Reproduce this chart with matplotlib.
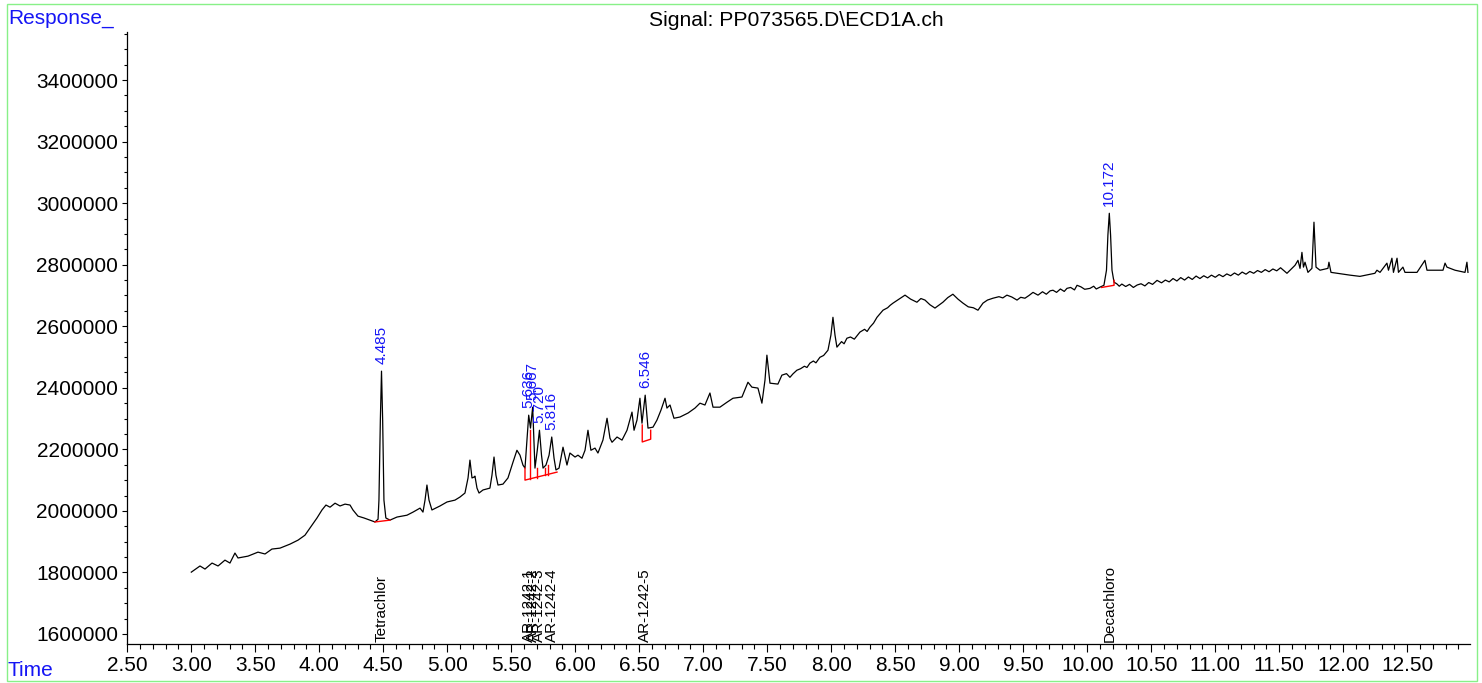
import numpy as np
import matplotlib
matplotlib.use("Agg")
import matplotlib.pyplot as plt
from matplotlib.patches import Rectangle
from matplotlib.ticker import MultipleLocator, FixedLocator, FormatStrFormatter

plt.rcParams['font.family'] = ['Liberation Sans', 'DejaVu Sans']

# ---------------- data ----------------
time = [3.00, 3.068, 3.107, 3.162, 3.209, 3.263, 3.302, 3.341, 3.365, 3.443, 3.521, 3.576, 3.630, 3.693,
        3.771, 3.834, 3.888, 3.927, 3.982, 4.021, 4.052, 4.084, 4.123, 4.162, 4.201, 4.240, 4.263, 4.302,
        4.349, 4.396, 4.435, 4.459, 4.466, 4.477, 4.486, 4.495, 4.505, 4.520, 4.552, 4.607, 4.685, 4.732,
        4.787, 4.810, 4.826, 4.841, 4.857, 4.880, 4.943, 4.998, 5.060, 5.099, 5.138, 5.162, 5.177, 5.193,
        5.209, 5.216, 5.232, 5.248, 5.279, 5.333, 5.349, 5.365, 5.380, 5.396, 5.435, 5.474, 5.513, 5.544,
        5.568, 5.591, 5.607, 5.622, 5.636, 5.650, 5.667, 5.685, 5.703, 5.720, 5.736, 5.748, 5.771, 5.795,
        5.816, 5.834, 5.849, 5.873, 5.904, 5.935, 5.958, 5.998, 6.021, 6.052, 6.076, 6.099, 6.122, 6.154,
        6.177, 6.216, 6.248, 6.271, 6.287, 6.326, 6.365, 6.404, 6.443, 6.459, 6.482, 6.505, 6.521, 6.546,
        6.568, 6.607, 6.638, 6.669, 6.701, 6.716, 6.740, 6.771, 6.818, 6.881, 6.935, 6.974, 7.013, 7.052,
        7.076, 7.130, 7.185, 7.232, 7.302, 7.349, 7.380, 7.427, 7.458, 7.482, 7.497, 7.521, 7.583, 7.614,
        7.65, 7.677, 7.70, 7.731, 7.76, 7.79, 7.81, 7.833, 7.86, 7.88, 7.911, 7.94, 7.974, 7.997, 8.013,
        8.029, 8.044, 8.08, 8.10, 8.122, 8.15, 8.18, 8.224, 8.26, 8.28, 8.302, 8.33, 8.357, 8.38, 8.404,
        8.44, 8.46, 8.482, 8.576, 8.62, 8.669, 8.70, 8.732, 8.77, 8.810, 8.84, 8.872, 8.91, 8.950, 8.99,
        9.029, 9.07, 9.11, 9.146, 9.185, 9.22, 9.263, 9.31, 9.34, 9.372, 9.41, 9.451, 9.48, 9.513, 9.545,
        9.576, 9.615, 9.65, 9.68, 9.71, 9.732, 9.76, 9.79, 9.82, 9.841, 9.87, 9.90, 9.920, 9.95, 9.98,
        10.021, 10.05, 10.07, 10.099, 10.130, 10.150, 10.161, 10.172, 10.182, 10.193, 10.209,
        10.23, 10.25, 10.27, 10.30, 10.33, 10.36, 10.39, 10.42, 10.45, 10.48, 10.51, 10.545, 10.58, 10.61,
        10.64, 10.67, 10.70, 10.73, 10.76, 10.79, 10.82, 10.85, 10.88, 10.91, 10.94, 10.97, 11.00, 11.03,
        11.06, 11.09, 11.12, 11.15, 11.18, 11.21, 11.24, 11.27, 11.30, 11.33, 11.36, 11.39, 11.42, 11.45,
        11.48, 11.51, 11.560, 11.623, 11.646, 11.662, 11.677, 11.689, 11.701, 11.724, 11.755, 11.771,
        11.787, 11.818, 11.880, 11.888, 11.904, 12.052, 12.130, 12.247, 12.263, 12.287, 12.341, 12.353,
        12.380, 12.392, 12.420, 12.431, 12.466, 12.482, 12.576, 12.638, 12.654, 12.779, 12.795, 12.810,
        12.873, 12.951, 12.966, 12.974]
response = [1801000, 1821000, 1811000, 1830500, 1821000, 1840000, 1830500, 1863000, 1847000, 1853000,
            1866000, 1860000, 1876000, 1879000, 1892000, 1905000, 1921000, 1944000, 1977000, 2003000,
            2019000, 2012000, 2025000, 2016000, 2022000, 2019000, 2003000, 1983000, 1977000, 1970000,
            1964000, 1973000, 2035000, 2295000, 2454000, 2295000, 2035000, 1977000, 1970000, 1980000,
            1986000, 1996000, 2009000, 1996000, 2035000, 2084000, 2035000, 2003000, 2016000, 2029000,
            2035000, 2045000, 2058000, 2107000, 2165000, 2107000, 2110000, 2113000, 2074000, 2058000,
            2068000, 2074000, 2116000, 2175000, 2116000, 2084000, 2087000, 2107000, 2158000, 2197000,
            2181000, 2149000, 2139000, 2230000, 2311000, 2269000, 2337000, 2139000, 2197000, 2262000,
            2181000, 2139000, 2149000, 2181000, 2240000, 2171000, 2133000, 2139000, 2207000, 2149000,
            2188000, 2175000, 2181000, 2171000, 2197000, 2262000, 2197000, 2204000, 2188000, 2230000,
            2301000, 2236000, 2223000, 2240000, 2230000, 2262000, 2321000, 2262000, 2295000, 2366000,
            2285000, 2376000, 2269000, 2272000, 2295000, 2327000, 2366000, 2334000, 2344000, 2301000,
            2305000, 2318000, 2334000, 2350000, 2344000, 2383000, 2337000, 2337000, 2353000, 2366000,
            2370000, 2418000, 2402000, 2399000, 2350000, 2425000, 2506000, 2415000, 2412000, 2441000,
            2446000, 2434000, 2445000, 2457000, 2462000, 2470000, 2466000, 2480000, 2487000, 2481000,
            2499000, 2505000, 2522000, 2571000, 2629000,
            2571000, 2532000, 2550000, 2543000, 2561000, 2565000, 2558000, 2581000, 2590000, 2583000,
            2597000, 2610000, 2629000, 2640000, 2652000,
            2660000, 2668000, 2675000, 2701000, 2688000, 2678000, 2690000, 2685000, 2670000, 2659000,
            2668000, 2678000, 2693000, 2704000, 2688000,
            2675000, 2663000, 2660000, 2652000, 2675000, 2685000, 2691000, 2696000, 2692000, 2701000,
            2695000, 2685000, 2694000, 2691000, 2700000,
            2710000, 2701000, 2712000, 2704000, 2715000, 2717000, 2710000, 2721000, 2713000, 2723000,
            2726000, 2718000, 2733000, 2728000, 2720000,
            2723000, 2730000, 2721000, 2727000, 2733000, 2782000, 2896000, 2967000, 2896000, 2782000, 2743000,
            2738000, 2730000, 2737000, 2729000, 2736000, 2726000, 2734000, 2738000, 2731000, 2742000,
            2736000, 2749000, 2741000, 2750000,
            2744000, 2755000, 2747000, 2758000, 2750000, 2760000, 2752000, 2763000, 2755000, 2764000,
            2757000, 2766000, 2759000, 2768000,
            2761000, 2770000, 2764000, 2773000, 2766000, 2776000, 2769000, 2778000, 2772000, 2781000,
            2775000, 2784000, 2777000, 2786000,
            2780000, 2790000, 2772000, 2798000, 2814000, 2788000, 2840000, 2792000, 2808000, 2775000,
            2788000, 2938000,
            2792000, 2782000, 2788000, 2808000, 2775000, 2766000, 2762000, 2772000, 2782000, 2775000,
            2805000, 2782000,
            2821000, 2775000, 2821000, 2775000, 2792000, 2775000, 2775000, 2814000, 2782000, 2782000,
            2805000, 2792000,
            2782000, 2775000, 2808000, 2775000]

# integrated peaks (retention time, apex response, compound name)
peak_rt = [4.485, 5.636, 5.667, 5.720, 5.816, 6.546, 10.172]
peak_apex = [2454000, 2311000, 2337000, 2262000, 2240000, 2376000, 2967000]
peak_labels = ["4.485", "5.636", "5.667", "5.720", "5.816", "6.546", "10.172"]
compound_names = ["Tetrachlor", "AR-1242-1", "AR-1242-2", "AR-1242-3", "AR-1242-4", "AR-1242-5", "Decachloro"]

# integration baselines / drop lines (red)
baseline_t = [[4.435, 4.552],
              [5.607, 5.607, 5.857],
              [5.650, 5.650],
              [5.697, 5.697],
              [5.760, 5.760],
              [5.790, 5.790],
              [6.523, 6.523, 6.589, 6.589],
              [10.112, 10.209, 10.209]]
baseline_r = [[1964000, 1970000],
              [2139000, 2100000, 2126000],
              [2103000, 2262000],
              [2108000, 2139000],
              [2115000, 2139000],
              [2118000, 2149000],
              [2279000, 2224000, 2233000, 2262000],
              [2726000, 2733000, 2749000]]

title = "Signal: PP073565.D\\ECD1A.ch"
x_major = [2.5, 3.0, 3.5, 4.0, 4.5, 5.0, 5.5, 6.0, 6.5, 7.0, 7.5, 8.0, 8.5, 9.0, 9.5,
           10.0, 10.5, 11.0, 11.5, 12.0, 12.5]
y_major = [1600000, 1800000, 2000000, 2200000, 2400000, 2600000, 2800000, 3000000, 3200000, 3400000]

assert len(time) == len(response)

# ---------------- figure ----------------
W, H = 1482, 683
fig = plt.figure(figsize=(W / 100, H / 100), dpi=100)
fig.patch.set_facecolor('white')
fig.patches.append(Rectangle((7 / W, 2 / H), 1470 / W, 677 / H, transform=fig.transFigure,
                             fill=False, edgecolor='#88f088', lw=1.0))

ax = fig.add_axes([127.3 / W, 39 / H, 1342.7 / W, 612 / H])
ax.set_xlim(2.5, 12.99)
ax.set_ylim(1567500, 3556000)

ax.plot(time, response, color='black', lw=0.9)

for bt, br in zip(baseline_t, baseline_r):
    ax.plot(bt, br, color='red', lw=1.0)

for rt, ap, lab in zip(peak_rt, peak_apex, peak_labels):
    ax.annotate(lab, xy=(rt, ap), xytext=(0, 5), textcoords='offset points',
                rotation=90, ha='center', va='bottom', color='#1515f5', fontsize=11)

for rt, name in zip(peak_rt, compound_names):
    ax.annotate(name, xy=(rt, 0), xycoords=ax.get_xaxis_transform(), xytext=(0, 1.5),
                textcoords='offset points', rotation=90, ha='center', va='bottom',
                color='black', fontsize=11)

for s in ['top', 'right']:
    ax.spines[s].set_visible(False)
for s in ['left', 'bottom']:
    ax.spines[s].set_linewidth(0.9)

ax.xaxis.set_major_locator(FixedLocator(x_major))
ax.xaxis.set_major_formatter(FormatStrFormatter('%.2f'))
ax.xaxis.set_minor_locator(MultipleLocator(0.1))
ax.yaxis.set_major_locator(FixedLocator(y_major))
ax.yaxis.set_major_formatter(FormatStrFormatter('%d'))
ax.yaxis.set_minor_locator(MultipleLocator(50000))

ax.tick_params(axis='x', which='major', length=5.5, width=0.8, labelsize=15, pad=3)
ax.tick_params(axis='x', which='minor', length=3.5, width=0.8)
ax.tick_params(axis='y', which='major', length=3.5, width=0.8, labelsize=15, pad=3)
ax.tick_params(axis='y', which='minor', length=2, width=0.8)

fig.text(796.5 / W, 1 - 20 / H, title, ha='center', va='center', fontsize=15.2, color='black')
fig.text(8 / W, 1 - 18 / H, "Response_", ha='left', va='center', fontsize=15, color='#1515f5')
fig.text(8 / W, 1 - 671 / H, "Time", ha='left', va='center', fontsize=15, color='#1515f5')

fig.savefig('out.png', dpi=100)
